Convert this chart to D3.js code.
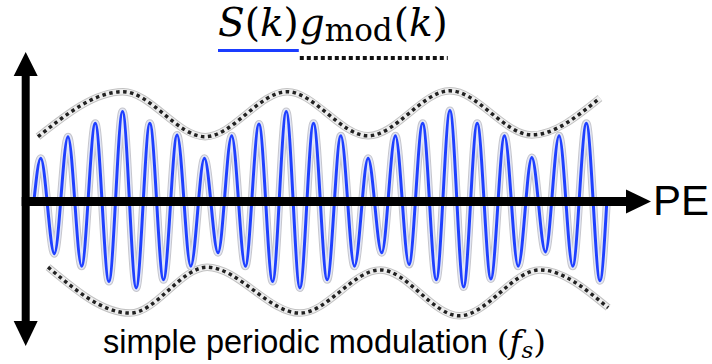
<!DOCTYPE html>
<html>
<head>
<meta charset="utf-8">
<script src="https://cdn.jsdelivr.net/npm/d3@7"></script>
<style>
  body { margin: 0; background: #fff; }
  svg { display: block; }
</style>
</head>
<body>
<script>

// carrier extrema S(k)g_mod(k), one per half period
var waveExtrema = [0.48, -0.58, 0.72, -0.72, 0.87, -0.89, 1.00, -0.96, 0.87, -0.87,
    0.74, -0.72, 0.48, -0.57, 0.73, -0.72, 0.86, -0.89, 1.00, -0.96,
    0.87, -0.87, 0.73, -0.72, 0.48, -0.57, 0.73, -0.70, 0.87, -0.87,
    1.01, -0.95, 0.87, -0.86, 0.73, -0.72, 0.49, -0.56, 0.73, -0.72,
    0.87, -0.88];

// dotted envelopes g_mod(k)
var upperK = [-0.2, 6.03, 12.05, 18.06, 24.0, 30.0, 36.0, 41.0];
var upperV = [0.72, 1.22, 0.72, 1.22, 0.73, 1.23, 0.74, 1.15];
var lowerK = [0.54, 6.55, 12.2, 19.0, 24.9, 30.7, 36.6, 41.6];
var lowerV = [-0.73, -1.24, -0.73, -1.24, -0.76, -1.27, -0.76, -1.18];

var axisLabel = "PE";
var caption = "simple periodic modulation ";

var w = 712;
var h = 364;
var svg = d3.select("body")
    .append("svg")
    .attr("width", w)
    .attr("height", h);

var xScale = d3.scaleLinear()
    .domain([0, waveExtrema.length - 1])
    .range([40.7, 600]);

var yScale = d3.scaleLinear()
    .domain([-1, 1])
    .range([291.5, 111.5]);

// wave starts and ends on the axis
var wave = [{k: -0.5, v: 0}];
waveExtrema.forEach(function(v, i) { wave.push({k: i, v: v}); });
wave.push({k: waveExtrema.length - 0.5, v: 0});

var line = d3.line()
    .x(function(d) { return xScale(d.k); })
    .y(function(d) { return yScale(d.v); })
    .curve(d3.curveMonotoneX);

var upper = upperK.map(function(k, i) { return {k: k, v: upperV[i]}; });
var lower = lowerK.map(function(k, i) { return {k: k, v: lowerV[i]}; });

// envelopes: grey halo + black dots
[upper, lower].forEach(function(env) {
    svg.append("path").attr("d", line(env)).attr("fill", "none")
        .attr("stroke", "#c2c2c2").attr("stroke-width", 7.5);
    svg.append("path").attr("d", line(env)).attr("fill", "none")
        .attr("stroke", "#efefef").attr("stroke-width", 5.5);
    svg.append("path").attr("d", line(env)).attr("fill", "none")
        .attr("stroke", "#222").attr("stroke-width", 3.5)
        .attr("stroke-dasharray", "3.5,3.5");
});

// blue wave with its soft outline
svg.append("path").attr("d", line(wave)).attr("fill", "none")
    .attr("stroke", "#c6c6cc").attr("stroke-width", 8);
svg.append("path").attr("d", line(wave)).attr("fill", "none")
    .attr("stroke", "#e2e6f6").attr("stroke-width", 6);
svg.append("path").attr("d", line(wave)).attr("fill", "none")
    .attr("stroke", "#1f40ff").attr("stroke-width", 3);

// axes with arrow heads
var y0 = yScale(0);
var ax = xScale(-1.1);
svg.append("rect")
    .attr("x", ax - 4).attr("y", 72)
    .attr("width", 8).attr("height", 252)
    .attr("fill", "#000");
svg.append("path")
    .attr("d", "M" + ax + ",52 L" + (ax + 12) + ",76 L" + (ax - 12) + ",76 Z")
    .attr("fill", "#000");
svg.append("path")
    .attr("d", "M" + ax + ",346 L" + (ax + 12) + ",321 L" + (ax - 12) + ",321 Z")
    .attr("fill", "#000");
svg.append("rect")
    .attr("x", ax - 4).attr("y", y0 - 4.5)
    .attr("width", 630 - ax).attr("height", 9)
    .attr("fill", "#000");
svg.append("path")
    .attr("d", "M651," + y0 + " L626," + (y0 - 12) + " L626," + (y0 + 12) + " Z")
    .attr("fill", "#000");

svg.append("text")
    .attr("x", 653).attr("y", y0 + 13)
    .attr("font-family", "Liberation Sans, Arial, sans-serif")
    .attr("font-size", 42)
    .attr("fill", "#000")
    .text(axisLabel);

// title S(k) g_mod(k)
var serif = "DejaVu Serif, serif";
var t1 = svg.append("text")
    .attr("x", 218).attr("y", 36)
    .attr("font-family", serif).attr("font-size", 39).attr("fill", "#000");
t1.append("tspan").attr("font-style", "italic").text("S");
t1.append("tspan").text("(");
t1.append("tspan").attr("font-style", "italic").text("k");
t1.append("tspan").text(")");
var b1 = t1.node().getBBox();

var t2 = svg.append("text")
    .attr("x", b1.x + b1.width + 1).attr("y", 36)
    .attr("font-family", serif).attr("font-size", 39).attr("fill", "#000");
t2.append("tspan").attr("font-style", "italic").text("g");
t2.append("tspan").attr("font-size", 31).attr("dy", 5).text("mod");
t2.append("tspan").attr("dy", -5).attr("dx", 1).text("(");
t2.append("tspan").attr("font-style", "italic").text("k");
t2.append("tspan").text(")");
var b2 = t2.node().getBBox();

svg.append("line")
    .attr("x1", 218).attr("x2", b1.x + b1.width)
    .attr("y1", 50.5).attr("y2", 50.5)
    .attr("stroke", "#1a3cff").attr("stroke-width", 3);
svg.append("line")
    .attr("x1", b2.x).attr("x2", b2.x + b2.width)
    .attr("y1", 58).attr("y2", 58)
    .attr("stroke", "#111").attr("stroke-width", 4)
    .attr("stroke-dasharray", "4,3");

// caption
var cap = svg.append("text")
    .attr("x", 103).attr("y", 353)
    .attr("font-family", "Liberation Sans, Arial, sans-serif")
    .attr("font-size", 32.5)
    .attr("fill", "#000");
cap.append("tspan").text(caption);
cap.append("tspan").attr("font-family", serif).text("(");
cap.append("tspan").attr("font-family", serif).attr("font-style", "italic").text("f");
cap.append("tspan").attr("font-family", serif).attr("font-style", "italic")
    .attr("font-size", 23).attr("dy", 5).text("s");
cap.append("tspan").attr("font-family", serif).attr("dy", -5).text(")");

</script>
</body>
</html>
